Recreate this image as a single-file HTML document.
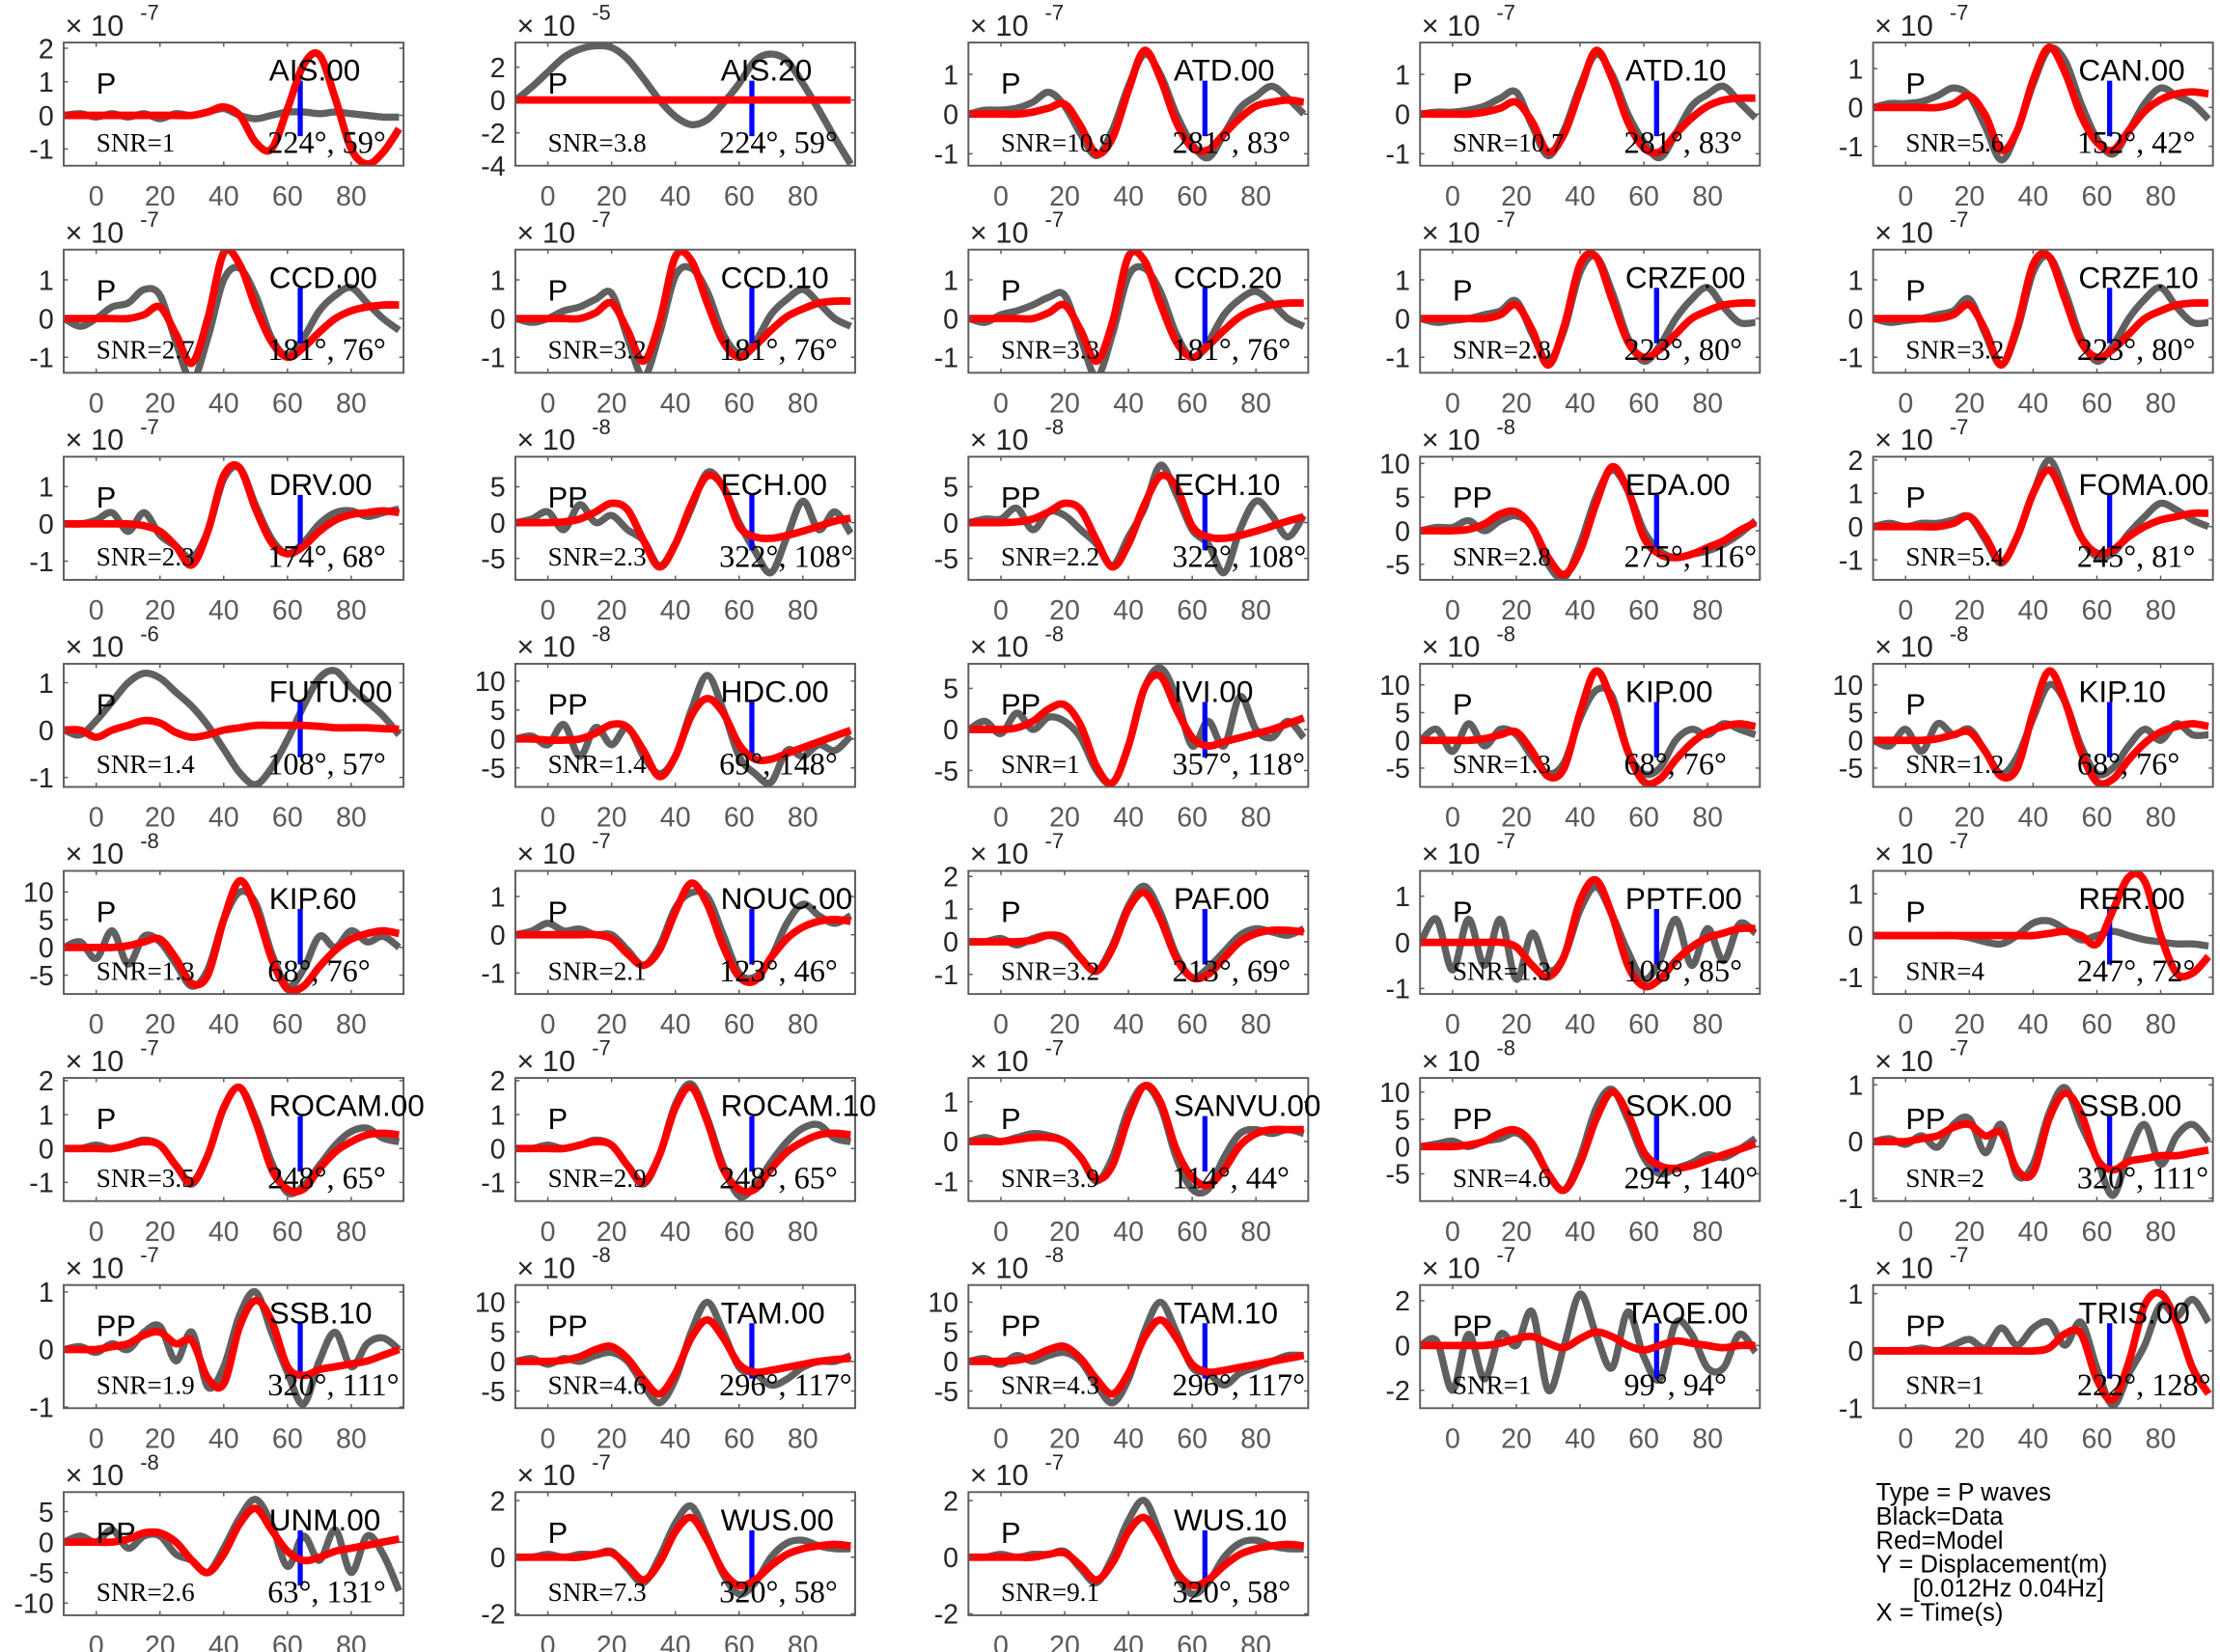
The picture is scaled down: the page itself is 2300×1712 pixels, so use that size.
<!DOCTYPE html>
<html><head><meta charset="utf-8"><style>
html,body{margin:0;padding:0;background:#fff;}
svg{display:block;}
</style></head><body>
<svg id="fig" xmlns="http://www.w3.org/2000/svg" width="2300" height="1712" viewBox="0 0 1568 1167">
<rect x="0" y="0" width="1568" height="1167" fill="#fff"/>
<g id="legend" font-family="Liberation Sans, sans-serif" font-size="17.5" fill="#000">
<text x="1325" y="1060">Type = P waves</text>
<text x="1325" y="1077">Black=Data</text>
<text x="1325" y="1094">Red=Model</text>
<text x="1325" y="1111">Y = Displacement(m)</text>
<text x="1351" y="1128">[0.012Hz 0.04Hz]</text>
<text x="1325" y="1145">X = Time(s)</text>
</g>
</svg>
<script>
// time samples (s)
const times = [-10,-5,0,5,10,15,20,25,30,35,40,45,50,55,60,65,70,75,80,85,90,95];
const xTicks = [0,20,40,60,80];
const stations = ["AIS.00","AIS.20","ATD.00","ATD.10","CAN.00","CCD.00","CCD.10","CCD.20","CRZF.00","CRZF.10","DRV.00","ECH.00","ECH.10","EDA.00","FOMA.00","FUTU.00","HDC.00","IVI.00","KIP.00","KIP.10","KIP.60","NOUC.00","PAF.00","PPTF.00","RER.00","ROCAM.00","ROCAM.10","SANVU.00","SOK.00","SSB.00","SSB.10","TAM.00","TAM.10","TAOE.00","TRIS.00","UNM.00","WUS.00","WUS.10"];
const phases = ["P","P","P","P","P","P","P","P","P","P","P","PP","PP","PP","P","P","PP","PP","P","P","P","P","P","P","P","P","P","P","PP","PP","PP","PP","PP","PP","PP","PP","P","P"];
const snrs = ["1","3.8","10.9","10.7","5.6","2.7","3.2","3.3","2.8","3.2","2.3","2.3","2.2","2.8","5.4","1.4","1.4","1","1.3","1.2","1.3","2.1","3.2","1.3","4","3.5","2.9","3.9","4.6","2","1.9","4.6","4.3","1","1","2.6","7.3","9.1"];
const azimuths = ["224","224","281","281","152","181","181","181","223","223","174","322","322","275","245","108","69","357","68","68","68","123","213","108","247","248","248","114","294","320","320","296","296","99","222","63","320","320"];
const incidences = ["59","59","83","83","42","76","76","76","80","80","68","108","108","116","81","57","148","118","76","76","76","46","69","85","72","65","65","44","140","111","111","117","117","94","128","131","58","58"];
const exponents = [-7,-5,-7,-7,-7,-7,-7,-7,-7,-7,-7,-8,-8,-8,-7,-6,-8,-8,-8,-8,-8,-7,-7,-7,-7,-7,-7,-7,-8,-7,-7,-8,-8,-7,-7,-8,-7,-7];
const yLimits = [[-1.5,2.17],[-4,3.5],[-1.3,1.8],[-1.3,1.8],[-1.5,1.67],[-1.4,1.78],[-1.4,1.78],[-1.4,1.78],[-1.4,1.78],[-1.4,1.78],
 [-1.5,1.8],[-8,9.2],[-8,9.2],[-7.3,11],[-1.6,2.1],[-1.2,1.4],[-8.3,13],[-7,8],[-8.4,13.8],[-8.4,13.8],
 [-8.4,13.8],[-1.55,1.67],[-1.6,2.17],[-1.12,1.55],[-1.4,1.55],[-1.55,2.08],[-1.55,2.08],[-1.5,1.6],[-10,12.6],[-1.05,1.12],
 [-1.02,1.12],[-7.9,12.9],[-7.9,12.9],[-2.8,2.7],[-1,1.15],[-12,8.2],[-2.05,2.3],[-2.05,2.3]];
const yTicks = [[-1,0,1,2],[-4,-2,0,2],[-1,0,1],[-1,0,1],[-1,0,1],[-1,0,1],[-1,0,1],[-1,0,1],[-1,0,1],[-1,0,1],
 [-1,0,1],[-5,0,5],[-5,0,5],[-5,0,5,10],[-1,0,1,2],[-1,0,1],[-5,0,5,10],[-5,0,5],[-5,0,5,10],[-5,0,5,10],
 [-5,0,5,10],[-1,0,1],[-1,0,1,2],[-1,0,1],[-1,0,1],[-1,0,1,2],[-1,0,1,2],[-1,0,1],[-5,0,5,10],[-1,0,1],
 [-1,0,1],[-5,0,5,10],[-5,0,5,10],[-2,0,2],[-1,0,1],[-10,-5,0,5],[-2,0,2],[-2,0,2]];
const dataSeries = [
 [0,0.05,-0.05,0.05,-0.05,0.05,-0.1,0.05,0,0.1,0.2,0,-0.1,0,0.1,0.1,0.05,0.1,0.05,0,-0.05,-0.05],
 [0,0.8,1.7,2.6,3.1,3.3,3.2,2.5,1.3,0,-1.0,-1.5,-1.2,-0.2,1.0,2.4,2.8,2.4,1.0,-0.6,-2.3,-3.9],
 [0,0.1,0.1,0.15,0.3,0.55,0.2,-0.5,-1.05,-0.4,0.7,1.5,1.0,0,-0.75,-1.1,-0.5,0.15,0.45,0.7,0.4,0.0],
 [0,0.05,0.05,0.1,0.2,0.4,0.55,-0.3,-1.05,-0.4,0.7,1.5,1.0,0,-0.7,-1.1,-0.5,0.2,0.5,0.7,0.3,-0.1],
 [0,0.1,0.1,0.15,0.3,0.5,0.3,-0.5,-1.35,-0.6,0.6,1.5,1.2,0.1,-0.8,-1.2,-0.6,0.1,0.5,0.3,0.1,-0.3],
 [0,-0.2,0,0.3,0.4,0.75,0.6,-0.6,-1.6,-0.5,1.0,1.3,0.6,-0.5,-0.95,-0.5,0.2,0.6,0.8,0.4,0,-0.3],
 [0,-0.1,0,0.2,0.3,0.5,0.65,-0.5,-1.5,-0.4,1.1,1.3,0.7,-0.4,-0.9,-0.6,0.1,0.5,0.75,0.4,0,-0.2],
 [0,-0.1,0.1,0.2,0.35,0.55,0.6,-0.5,-1.5,-0.4,1.1,1.3,0.7,-0.4,-1.0,-0.6,0.1,0.5,0.7,0.4,0,-0.2],
 [0,-0.1,-0.05,0,0.1,0.2,0.45,-0.4,-1.1,-0.3,1.2,1.6,0.7,-0.5,-1.1,-0.7,0,0.5,0.8,0.3,-0.1,-0.1],
 [0,-0.1,-0.05,0,0.1,0.2,0.5,-0.4,-1.2,-0.3,1.2,1.6,0.7,-0.5,-1.1,-0.7,0,0.5,0.8,0.3,-0.1,-0.1],
 [0,0,0.1,0.3,-0.2,0.3,-0.3,-0.6,-0.9,-0.2,1.2,1.5,0.5,-0.4,-0.8,-0.5,0,0.3,0.35,0.2,0.3,0.4],
 [0,0.5,1.5,-1,2.5,0,1,-1,-2.5,-6,-3,2,7,5,0,-4,-7,-2,3,-1,1.5,-1.5],
 [0,0.5,0.5,2,-1,1.5,1,-1,-3,-6,-2,2,8,4,-1,-3,-7,-1,3,1,-2,1],
 [0,0.5,0.5,1.5,0,1.5,2.2,0.5,-5,-7,-2,5,9,6,0,-3,-4,-3.5,-3,-2,-0.5,1.5],
 [0,0.1,0,0.1,0.1,0.2,0.3,-0.4,-1.1,-0.3,1.0,2.0,1.0,-0.3,-0.9,-0.8,-0.2,0.3,0.7,0.5,0.2,0],
 [0,-0.1,0.2,0.6,1.0,1.2,1.1,0.8,0.5,0.1,-0.4,-0.9,-1.15,-0.8,-0.2,0.5,1.1,1.25,0.9,0.6,0.3,-0.1],
 [0,0.5,-1,2.5,-3,2,-1,2,-3,-6,-3,5,11,5,-3,-6,-7.5,-2,-3,-1,-2,0.5],
 [0,1,-0.5,2,0,1.5,1,-1,-5,-6.5,-2,5,7.5,4,-2,1,-2,4,0,-1,1,-1],
 [0,2,-2,3,-1,2,1,-3,-6,-4,4,9,8,-2,-6,-5,0,2,1,3,2,1],
 [0,-1,2,-2,3,1,2,-2,-6,-3,4,10,7,-1,-6,-5,-1,2,0,3,1,1],
 [0,1,-2,3,-3,2,1,-3,-7,-4,5,10,8,-1,-7,-4,2,0,3,1,2,0],
 [0,0.1,0.3,0.1,0.15,0,0,-0.4,-0.8,-0.3,0.7,1.1,1.0,0,-1.0,-1.1,-0.6,0.3,0.8,0.5,0.3,0.5],
 [0,0,0.1,-0.1,0.1,0.2,0,-0.5,-0.9,-0.1,1.1,1.7,0.9,-0.4,-1.1,-0.8,-0.3,0.2,0.4,0.3,0.2,0.4],
 [0,0.5,-0.6,0.5,-0.5,0.5,-0.8,0.2,-0.6,-0.3,0.7,1.2,0.6,-0.2,-0.8,-0.4,0.5,-0.5,0.3,-0.4,0.4,0.2],
 [0,0,0,0,0,0,-0.05,-0.15,-0.2,0,0.3,0.35,0.15,-0.1,0,0.1,0,-0.1,-0.15,-0.2,-0.2,-0.25],
 [0,0,0.1,0,0.1,0.25,0.1,-0.5,-1.05,-0.2,1.2,1.8,0.9,-0.4,-1.3,-1.1,-0.5,0.1,0.5,0.6,0.3,0.2],
 [0,0,0.1,0,0.1,0.25,0.1,-0.5,-1.05,-0.2,1.3,1.9,0.9,-0.5,-1.4,-1.1,-0.4,0.2,0.6,0.7,0.3,0.2],
 [0,0.1,0,0.1,0.2,0.15,0,-0.4,-1.0,-0.4,0.8,1.4,0.9,-0.4,-1.2,-1.2,-0.4,0.2,0.3,0.2,0.3,0.2],
 [0,0.5,1,0,1,1.5,2.5,0,-5,-8,-2,7,10.5,5,-2,-5,-4,-3,-1.5,-2,-0.5,1.5],
 [0,0.05,-0.05,0.1,-0.1,0.3,0.4,-0.2,0.3,-0.6,-0.4,0.5,0.95,0.3,-0.3,-0.95,-0.2,0.3,-0.4,0.1,0.3,0],
 [0,0.05,-0.05,0.1,0,0.3,0.4,-0.2,0.3,-0.65,-0.3,0.6,1.0,0.3,-0.4,-0.95,-0.2,0.3,-0.3,0.1,0.2,0],
 [0,0.5,-0.5,0.5,0,1,1.5,0,-4,-7,-3,5,10,5,-1,-2,-4,-3,-1,0,0,1],
 [0,0.5,-0.5,1,0,1,1.5,0,-4,-7,-3,5,10,5,-1,-2,-4,-2,-1,0,1,1],
 [0,0.2,-2,0.5,-1.5,0.5,0,1.5,-2,0,2.3,0.5,-1,1.5,-0.5,-1.5,1,0.5,-1,-1,0.5,-0.3],
 [0,0,0,0.05,0,0.1,0.2,0.05,0.4,0.1,0.4,0.5,0.1,0.5,-0.3,-0.95,-0.4,0.1,0.8,0.6,0.9,0.5],
 [0,1,0,2,-1,1,1,-2,-3,-5,-1,4,7,3,-4,1,-3,2,-5,1,-2,-8],
 [0,0,0.1,0,0.1,0.1,0.2,-0.4,-0.9,0,1.2,1.8,0.7,-0.6,-1.3,-0.9,0,0.5,0.6,0.4,0.3,0.3],
 [0,0,0.1,0,0.1,0.1,0.2,-0.4,-0.9,0,1.3,2.0,0.8,-0.6,-1.3,-0.9,0,0.5,0.6,0.4,0.3,0.3]
];
const modelSeries = [
 [0,0,0,0,0,0,0,0,0,0.1,0.25,0,-0.8,-1.0,0.2,1.5,1.8,0.5,-1.0,-1.45,-1.1,-0.4],
 [0,0,0,0,0,0,0,0,0,0,0,0,0,0,0,0,0,0,0,0,0,0],
 [0,0,0,0,0.05,0.15,0.25,-0.3,-1.0,-0.6,0.6,1.6,0.9,-0.2,-0.85,-0.9,-0.5,-0.1,0.2,0.3,0.35,0.3],
 [0,0,0,0,0.05,0.15,0.3,-0.2,-0.95,-0.5,0.6,1.6,0.9,-0.2,-0.85,-0.95,-0.5,-0.1,0.2,0.35,0.4,0.4],
 [0,0,0,0,0,0.1,0.3,-0.2,-1.1,-0.6,0.7,1.55,0.9,-0.2,-0.9,-1.1,-0.6,-0.1,0.2,0.35,0.4,0.35],
 [0,0,0,0,0,0.1,0.3,-0.4,-1.15,0,1.7,1.4,0.3,-0.6,-1.0,-0.75,-0.35,0,0.2,0.3,0.35,0.35],
 [0,0,0,0,0,0.15,0.4,-0.3,-1.1,-0.1,1.6,1.5,0.4,-0.6,-1.0,-0.7,-0.3,0.05,0.25,0.4,0.45,0.45],
 [0,0,0,0,0,0.15,0.35,-0.3,-1.1,-0.1,1.6,1.5,0.4,-0.6,-1.0,-0.7,-0.3,0.05,0.25,0.35,0.4,0.4],
 [0,0,0,0,0,0.1,0.35,-0.3,-1.2,-0.2,1.4,1.6,0.5,-0.6,-1.0,-0.8,-0.4,0,0.2,0.35,0.4,0.4],
 [0,0,0,0,0,0.1,0.35,-0.3,-1.2,-0.2,1.4,1.6,0.5,-0.6,-1.0,-0.8,-0.4,0,0.2,0.35,0.4,0.4],
 [0,0,0,0,0,-0.05,-0.2,-0.6,-1.1,-0.2,1.3,1.5,0.4,-0.5,-0.8,-0.6,-0.2,0.1,0.25,0.3,0.35,0.3],
 [0,0,0,0.1,0.5,1.5,2.7,1.8,-2.5,-6.2,-3,2.5,6.5,5,-0.5,-2.0,-2.2,-1.8,-1.2,-0.5,0.2,0.6],
 [0,0,0,0.1,0.5,1.5,2.7,1.8,-2.5,-6.2,-3,2.5,6.5,5,-0.5,-2.0,-2.2,-1.8,-1.2,-0.5,0.2,0.8],
 [0,0,0,0.2,1,2.5,2.8,0.5,-4,-6.5,-3,4,9.5,6,-1,-3.5,-4,-3.5,-2.5,-1.5,0,1.2],
 [0,0,0,0,0,0.1,0.3,-0.3,-1.05,-0.3,1.0,1.7,0.8,-0.3,-0.8,-0.7,-0.3,0,0.2,0.3,0.4,0.4],
 [0,0,-0.15,0,0.1,0.2,0.15,-0.05,-0.15,-0.1,0,0.05,0.1,0.1,0.1,0.1,0.08,0.05,0.05,0.05,0.03,0.02],
 [0,0,-0.2,-0.2,0,1,2.5,2,-2,-6.5,-3,4,7,4.5,-1,-3.5,-3.5,-2.5,-1.5,-0.5,0.5,1.5],
 [0,0,0,0.2,1,2.5,3,0.5,-4.5,-6.5,-2,5,6.5,2.5,-1,-2,-1.5,-1,-0.5,0,0.7,1.4],
 [0,0,0,0,0.3,1,1.5,-2,-6.5,-5,5,12.5,7,-2,-7.5,-7,-3.5,-0.5,1.5,2.5,3,2.5],
 [0,0,0,0,0.3,1,1.5,-2,-6.5,-5,5,12.5,7,-2,-7.5,-7,-3.5,-0.5,1.5,2.5,3,2.5],
 [0,0,0,0,0.3,1,1.5,-2,-6.5,-5,5,12,7,-2,-7.5,-7,-3.5,-0.5,1.5,2.5,3,2.5],
 [0,0,0,0,0,0,-0.1,-0.5,-0.8,-0.4,0.6,1.35,0.8,-0.3,-1.1,-1.2,-0.6,-0.1,0.2,0.35,0.4,0.35],
 [0,0,0,0,0.05,0.2,0.1,-0.5,-0.9,-0.2,1.0,1.5,0.7,-0.5,-1.1,-1.0,-0.5,0,0.25,0.35,0.35,0.3],
 [0,0,0,0,0,0,-0.1,-0.5,-0.75,-0.3,0.9,1.35,0.6,-0.5,-0.95,-0.8,-0.4,-0.1,0.1,0.2,0.3,0.3],
 [0,0,0,0,0,0,0,0,0,0,0,0.05,0.1,0,-0.2,0.6,1.4,1.3,0,-0.9,-0.9,-0.5],
 [0,0,0,0,0.1,0.2,0.1,-0.5,-1.0,-0.2,1.2,1.8,0.8,-0.6,-1.2,-1.2,-0.6,-0.1,0.2,0.4,0.45,0.4],
 [0,0,0,0,0.1,0.2,0.1,-0.5,-1.0,-0.2,1.2,1.8,0.8,-0.6,-1.2,-1.2,-0.6,-0.1,0.2,0.4,0.45,0.4],
 [0,0,0,0.05,0.1,0.1,0,-0.4,-0.95,-0.6,0.6,1.4,1.0,-0.2,-0.9,-1.1,-0.7,-0.1,0.2,0.3,0.3,0.3],
 [0,0,0,0.3,1,2.5,3,0.5,-5,-8,-3,5,10,6,-1,-3.5,-4,-3.5,-2.5,-1.5,-0.5,0.5],
 [0,0,0,0.05,0.1,0.25,0.3,0.1,0.15,-0.5,-0.55,0.4,0.85,0.5,-0.3,-0.5,-0.35,-0.3,-0.25,-0.25,-0.2,-0.15],
 [0,0,0,0.05,0.1,0.25,0.3,0.1,0.15,-0.5,-0.6,0.4,0.85,0.5,-0.3,-0.45,-0.35,-0.3,-0.25,-0.2,-0.1,0],
 [0,0,0,0.2,0.8,2,2.5,0.5,-3,-5.5,-2,4,7,4,-0.5,-1.8,-1.5,-1,-0.5,0,0.3,0.5],
 [0,0,0,0.2,0.8,2,2.5,0.5,-3,-5.5,-2,4,7,4,-0.5,-1.8,-1.5,-1,-0.5,0,0.5,1],
 [0,0,0,0,0,0.1,0.3,0.4,0.1,-0.1,0.3,0.6,0.4,0,-0.2,0,0.2,0.1,0,-0.1,0,0],
 [0,0,0,0,0,0,0,0,0,0,0,0.05,0.3,0.3,-0.5,-0.85,-0.2,0.8,1.0,0.5,-0.3,-0.75],
 [0,0,0,0,0.5,1.5,1.5,0,-3,-5,-2,3,5.5,2,-1.5,-3,-2.5,-1.5,-1,-0.5,0,0.5],
 [0,0,0,0,0,0.1,0.15,-0.3,-0.8,-0.2,0.9,1.4,0.6,-0.5,-1.0,-0.8,-0.3,0.1,0.3,0.4,0.45,0.4],
 [0,0,0,0,0,0.1,0.15,-0.3,-0.8,-0.2,0.9,1.4,0.6,-0.5,-1.0,-0.8,-0.3,0.1,0.3,0.4,0.45,0.4]
];
const markerTime = 64;

const NS = "http://www.w3.org/2000/svg";
const svg = document.getElementById('fig');
const colLeft = [45,364,684,1003,1323];
const rowTop0 = 30, rowStep = 146.3, boxW = 240, boxH = 87;
const X0 = -10.2, X1 = 96.4;
function mk(tag, attrs, parent){ const e=document.createElementNS(NS,tag); for(const k in attrs) e.setAttribute(k,attrs[k]); (parent||svg).appendChild(e); return e; }
function smoothPath(pts){
  let d = "M"+pts[0][0].toFixed(2)+","+pts[0][1].toFixed(2);
  for(let i=0;i<pts.length-1;i++){
    const p0=pts[Math.max(0,i-1)], p1=pts[i], p2=pts[i+1], p3=pts[Math.min(pts.length-1,i+2)];
    const c1x=p1[0]+(p2[0]-p0[0])/6, c1y=p1[1]+(p2[1]-p0[1])/6;
    const c2x=p2[0]-(p3[0]-p1[0])/6, c2y=p2[1]-(p3[1]-p1[1])/6;
    d+=" C"+c1x.toFixed(2)+","+c1y.toFixed(2)+" "+c2x.toFixed(2)+","+c2y.toFixed(2)+" "+p2[0].toFixed(2)+","+p2[1].toFixed(2);
  }
  return d;
}
stations.forEach((name,i)=>{
  const L = colLeft[i%5], T = rowTop0 + Math.floor(i/5)*rowStep;
  const [y0,y1] = yLimits[i];
  const xs = t => L + (t - X0)/(X1 - X0)*boxW;
  const ys = v => T + boxH - (v - y0)/(y1 - y0)*boxH;
  const g = mk('g',{});
  
  
  const cid = 'clip'+i;
  const cp = mk('clipPath',{id:cid},g); mk('rect',{x:L,y:T,width:boxW,height:boxH},cp);
  const dp = mk('path',{d:smoothPath(times.map((t,k)=>[xs(t),ys(dataSeries[i][k])])),fill:'none',stroke:'#606060','stroke-width':5,'stroke-linejoin':'round','clip-path':'url(#'+cid+')'},g);
  
  
  const bl = mk('line',{x1:xs(markerTime),x2:xs(markerTime),y1:T+boxH*0.31,y2:T+boxH*0.76,stroke:'#0000ff','stroke-width':3.6},g);
  
  
  const mp = mk('path',{d:smoothPath(times.map((t,k)=>[xs(t),ys(modelSeries[i][k])])),fill:'none',stroke:'#ff0000','stroke-width':5.3,'stroke-linejoin':'round','clip-path':'url(#'+cid+')'},g);
  
  
  const bx = mk('rect',{x:L,y:T,width:boxW,height:boxH,fill:'none',stroke:'#5a5a5a','stroke-width':1.3},g);
  
  
  xTicks.forEach(t=>{
    const x = xs(t);
    mk('line',{x1:x,x2:x,y1:T+boxH,y2:T+boxH-3,stroke:'#5a5a5a','stroke-width':1},g);
    mk('line',{x1:x,x2:x,y1:T,y2:T+3,stroke:'#5a5a5a','stroke-width':1},g);
    const tl = mk('text',{x:x,y:T+boxH+28,'text-anchor':'middle','font-family':'Liberation Sans, sans-serif','font-size':19.5,fill:'#5a5a5a'},g);
    tl.textContent = t;
    
    
  });
  yTicks[i].forEach(v=>{
    const y = ys(v);
    mk('line',{x1:L,x2:L+3,y1:y,y2:y,stroke:'#5a5a5a','stroke-width':1},g);
    mk('line',{x1:L+boxW,x2:L+boxW-3,y1:y,y2:y,stroke:'#5a5a5a','stroke-width':1},g);
    const tl = mk('text',{x:L-7,y:y+7,'text-anchor':'end','font-family':'Liberation Sans, sans-serif','font-size':19.5,fill:'#262626'},g);
    tl.textContent = v;
    
    
  });
  const ex = mk('text',{x:L+1,y:T-5,'font-family':'Liberation Sans, sans-serif','font-size':21,fill:'#262626'},g);
  ex.textContent = '\u00d7 10';
  
  
  const es = mk('text',{x:L+54,y:T-16,'font-family':'Liberation Sans, sans-serif','font-size':15,fill:'#262626'},g);
  es.textContent = exponents[i];
  
  
  const ph = mk('text',{x:L+23,y:T+36,'font-family':'Liberation Sans, sans-serif','font-size':21,fill:'#000'},g);
  ph.textContent = phases[i];
  
  
  const st = mk('text',{x:L+145,y:T+27,'font-family':'Liberation Sans, sans-serif','font-size':21.5,fill:'#000'},g);
  st.textContent = name;
  
  
  const sn = mk('text',{x:L+23,y:T+77,'font-family':'Liberation Serif, serif','font-size':18.5,fill:'#000'},g);
  sn.textContent = 'SNR=' + snrs[i];
  
  
  const an = mk('text',{x:L+144,y:T+78,'font-family':'Liberation Serif, serif','font-size':22,fill:'#000'},g);
  an.textContent = azimuths[i] + '\u00b0, ' + incidences[i] + '\u00b0';
  
  
});
</script>
</body></html>
